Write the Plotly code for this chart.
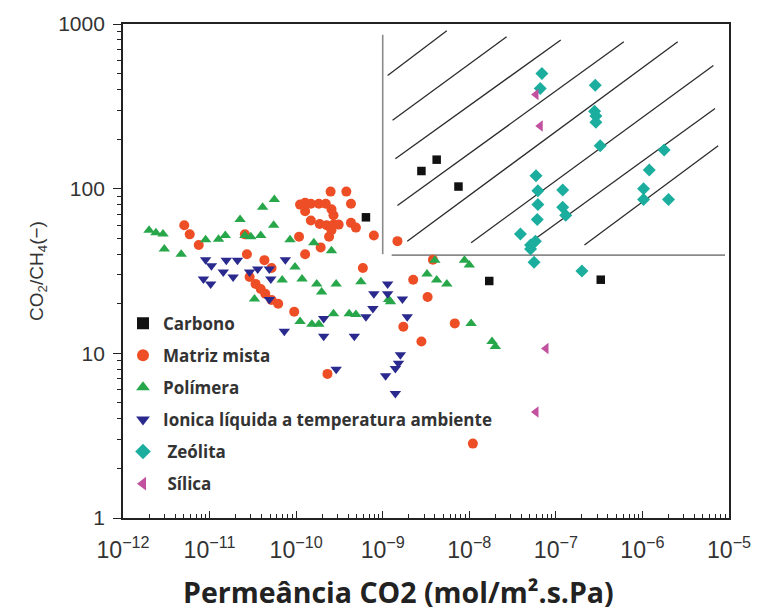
import plotly.graph_objects as go

# CO2 permeance (mol/m2.s.Pa) and CO2/CH4 selectivity by membrane family
carbono_x = [6.4e-10, 2.8e-9, 4.2e-9, 7.5e-9, 1.7e-8, 3.3e-7]
carbono_y = [67, 128, 150, 103, 27.5, 28]

matriz_x = [5.1e-12, 5.9e-12, 7.5e-12, 2.56e-11, 2.7e-11, 4.3e-11, 5.2e-11, 2.9e-11,
            3.4e-11, 3.9e-11, 4.4e-11, 5.2e-11, 6.2e-11, 9.5e-11,
            2.5e-10, 3.8e-10, 4.3e-10, 1.11e-10, 1.27e-10, 1.48e-10, 1.83e-10, 2.2e-10,
            2.56e-10, 1.27e-10, 2.7e-10, 1.48e-10, 1.87e-10, 2.25e-10, 2.7e-10, 3.1e-10,
            4.3e-10, 4.9e-10, 2.56e-10, 2.4e-10, 7.9e-10, 1.08e-10, 1.92e-10, 1.27e-10,
            5.9e-10, 1.48e-9, 3.8e-9, 2.25e-9, 3.3e-9, 1.73e-9, 6.8e-9, 2.8e-9,
            1.1e-8, 2.3e-10]
matriz_y = [60, 52.8, 45.5, 52.8, 40, 36.8, 33, 29.1,
            26.4, 24.6, 23, 21.1, 20, 17.9,
            96, 96, 81, 80, 82, 81, 81, 81,
            75, 73, 69, 64, 61, 60, 60.5, 60.5,
            62, 58, 56, 51, 52, 51, 44, 40,
            33, 48, 37, 28, 22, 14.5, 15.2, 11.8,
            2.83, 7.5]

polimera_x = [2.0e-12, 2.4e-12, 2.9e-12, 3.0e-12, 4.7e-12, 9.0e-12, 1.27e-11, 1.52e-11,
              2.25e-11, 2.56e-11, 3.0e-11, 3.9e-11, 4.1e-11, 5.6e-11, 5.5e-11, 8.5e-11,
              1.6e-10, 2.56e-10, 9.7e-11, 6.9e-11, 1.17e-10, 1.73e-10, 1.97e-10, 2.9e-10,
              5.6e-10, 3.3e-11, 1.11e-10, 1.52e-10, 1.83e-10, 2.7e-10, 4.1e-10, 4.9e-10,
              1.23e-9, 4.0e-9, 8.8e-9, 1.0e-8, 3.25e-9, 4.2e-9, 5.5e-9, 1.17e-9,
              1.05e-8, 1.83e-8, 2.0e-8]
polimera_y = [56, 54, 53, 43, 40, 49, 49.3, 52,
              65, 52, 51, 52, 77, 86, 60, 49,
              47, 42, 33.4, 27.9, 28.3, 26.4, 23.6, 26.4,
              27.2, 21.4, 15.6, 15, 15, 17.4, 17.4, 17.2,
              20.6, 36.8, 36.8, 34.4, 30.3, 27.9, 26.4, 21.2,
              15.2, 11.8, 11.0]

ionica_x = [9.0e-12, 1.05e-11, 8.5e-12, 1.03e-11, 1.56e-11, 2.1e-11, 1.87e-11, 3.6e-11,
            4.9e-11, 5.1e-11, 7.5e-11, 1.44e-11, 2.9e-11, 4.9e-11, 7.3e-11, 2.08e-10,
            2.08e-10, 4.7e-10, 6.4e-10, 7.7e-10, 7.9e-10, 1.14e-9, 1.14e-9, 1.69e-9,
            1.92e-9, 2.9e-10, 1.6e-9, 1.52e-9, 1.4e-9, 1.08e-9, 1.4e-9]
ionica_y = [37, 34, 28.3, 26.4, 36.8, 36.8, 29.1, 32.5,
            32.5, 28.3, 37, 31.2, 31.2, 21.2, 13.6, 16.3,
            12.7, 12.7, 16.7, 18.7, 23, 26.4, 23, 21.4,
            16.7, 8.0, 9.8, 8.7, 8.1, 7.3, 5.7]

zeolita_x = [6.9e-8, 6.6e-8, 2.85e-7, 2.8e-7, 2.9e-7, 2.9e-7, 3.25e-7, 5.9e-8,
             6.2e-8, 1.2e-7, 6.2e-8, 1.2e-7, 1.3e-7, 6.1e-8, 3.9e-8, 5.1e-8,
             5.8e-8, 5.6e-8, 2.0e-7, 1.78e-6, 1.2e-6, 1.03e-6, 1.03e-6, 2.0e-6,
             5.1e-8]
zeolita_y = [500, 406, 424, 295, 276, 253, 182, 120,
             97, 98, 80, 77, 69, 65, 53, 45.5,
             48, 35.8, 31.6, 172, 130, 100, 86, 86,
             43]

silica_x = [5.9e-8, 6.6e-8, 7.7e-8, 5.9e-8]
silica_y = [373, 240, 10.7, 4.4]

# Boundary of the attractive region (upper-right corner)
region_vline_x = [1.0e-9, 1.0e-9]
region_vline_y = [860, 40]
region_hline_x = [1.27e-9, 9.0e-6]
region_hline_y = [39.5, 39.5]

# Hatching inside the region: start and end of each stroke
hatch_x0 = [1.14e-9, 1.3e-9, 1.4e-9, 1.48e-9, 1.92e-9, 1.05e-8, 4.6e-8, 2.14e-7]
hatch_y0 = [486, 260, 152, 79, 48, 47, 45.5, 45.5]
hatch_x1 = [5.5e-9, 2.7e-8, 1.14e-7, 6.1e-7, 2.56e-6, 6.6e-6, 6.9e-6, 7.5e-6]
hatch_y1 = [910, 836, 800, 780, 780, 560, 307, 182]

series = [
    ("Carbono", carbono_x, carbono_y, "square", "#111111", 8.5),
    ("Matriz mista", matriz_x, matriz_y, "circle", "#EE4E25", 10),
    ("Polímera", polimera_x, polimera_y, "triangle-up", "#27A74A", 10),
    ("Ionica líquida a temperatura ambiente", ionica_x, ionica_y, "triangle-down", "#2A2A8E", 10),
    (" Zeólita", zeolita_x, zeolita_y, "diamond", "#1BAE9E", 10),
    (" Sílica", silica_x, silica_y, "triangle-left", "#C2529F", 10),
]

x_title = "Permeância CO2 (mol/m².s.Pa)"
y_title = "CO<sub>2</sub>/CH<sub>4</sub>(−)"

fig = go.Figure()

for x0, y0, x1, y1 in zip(hatch_x0, hatch_y0, hatch_x1, hatch_y1):
    fig.add_trace(go.Scatter(x=[x0, x1], y=[y0, y1], mode="lines",
                             line=dict(color="#2b2b2b", width=1.3),
                             showlegend=False, hoverinfo="skip"))
for lx, ly in ((region_vline_x, region_vline_y), (region_hline_x, region_hline_y)):
    fig.add_trace(go.Scatter(x=lx, y=ly, mode="lines",
                             line=dict(color="#8a8a8a", width=1.6),
                             showlegend=False, hoverinfo="skip"))

for i, (name, xs, ys, sym, col, sz) in enumerate(series):
    fig.add_trace(go.Scatter(
        x=xs, y=ys, mode="markers", name=name, legendgroup=f"g{i}",
        marker=dict(symbol=sym, color=col, size=sz, line=dict(width=0)),
    ))

fig.add_annotation(
    text=x_title, xref="paper", yref="paper", x=0.454, y=-0.149,
    xanchor="center", yanchor="middle", showarrow=False,
    font=dict(family="Open Sans, sans-serif", size=28.5, color="#222222", weight="bold"),
)

fig.update_layout(
    width=763, height=610,
    margin=dict(l=123, r=24, t=20, b=92),
    paper_bgcolor="white", plot_bgcolor="white",
    showlegend=True,
    legend=dict(
        x=0.0, y=0.43, xanchor="left", yanchor="top",
        bgcolor="rgba(0,0,0,0)",
        font=dict(family="Open Sans, sans-serif", size=17, color="#333333", weight="bold"),
        tracegroupgap=7, itemsizing="constant",
    ),
    xaxis=dict(
        type="log", range=[-12, -5], dtick=1, exponentformat="power",
        showline=True, linecolor="#222222", linewidth=1.6, mirror=True,
        ticks="inside", ticklen=7, tickcolor="#222222",
        minor=dict(ticks="inside", ticklen=4, dtick="D1", tickcolor="#222222", showgrid=False),
        showgrid=False, zeroline=False, ticklabelstandoff=11,
        tickfont=dict(family="Liberation Sans, Arial, sans-serif", size=18.5, color="#333333"),
    ),
    yaxis=dict(
        type="log", range=[0, 3], dtick=1,
        showline=True, linecolor="#222222", linewidth=1.8, mirror=True,
        ticks="outside", ticklen=8, tickcolor="#222222",
        minor=dict(ticks="outside", ticklen=4, dtick="D1", tickcolor="#222222", showgrid=False),
        showgrid=False, zeroline=False, ticklabelstandoff=4,
        tickfont=dict(family="Liberation Sans, Arial, sans-serif", size=21, color="#333333"),
        title=dict(text=y_title, standoff=10,
                   font=dict(family="Liberation Sans, Arial, sans-serif", size=19, color="#333333")),
    ),
)

fig.write_html("out.html")
